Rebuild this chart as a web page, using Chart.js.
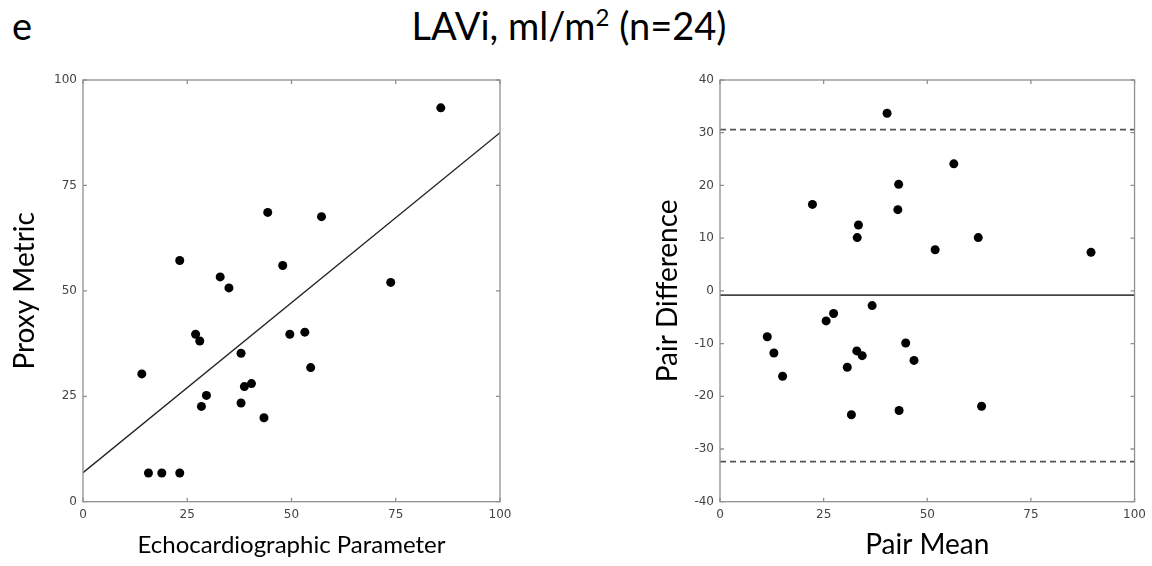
<!DOCTYPE html>
<html>
<head>
<meta charset="utf-8">
<script src="https://cdn.jsdelivr.net/npm/chart.js@4.4.1/dist/chart.umd.min.js"></script>
<style>
body { margin: 0; background: #fff; width: 1152px; height: 566px; overflow: hidden; position: relative; }
.head { position: absolute; top: 3px; font-family: Lato, sans-serif; font-size: 38px; color: #000; line-height: 44px; white-space: nowrap; }
.head sup { font-size: 24px; vertical-align: 14px; line-height: 0; }
#letter { left: 12px; }
#title { left: 0; width: 1138px; text-align: center; }
.box { position: absolute; top: 60px; width: 576px; height: 506px; }
</style>
</head>
<body>
<div class="head" id="letter">e</div>
<div class="head" id="title">LAVi, ml/m<sup>2</sup> (n=24)</div>
<div class="box" style="left:0"><canvas id="corrChart" width="576" height="506"></canvas></div>
<div class="box" style="left:576px"><canvas id="baChart" width="576" height="506"></canvas></div>
<script>
//Values.
//Left panel: echo parameter vs proxy metric, with the fitted line.
const echoParam   = [85.8, 44.3, 57.2, 23.2, 47.9, 32.9, 35.0, 73.8, 53.2, 49.6, 27.0, 28.0,
                     37.9, 54.6, 14.1, 40.4, 38.7, 29.6, 37.9, 28.4, 43.4, 15.7, 18.9, 23.2];
const proxyMetric = [93.4, 68.6, 67.6, 57.2, 56.0, 53.3, 50.7, 52.0, 40.2, 39.7, 39.7, 38.1,
                     35.2, 31.8, 30.3, 28.0, 27.3, 25.2, 23.4, 22.6, 19.9, 6.8, 6.8, 6.8];
const fitX = [0, 100];
const fitY = [6.9, 87.5];

//Right panel: Bland-Altman, pair mean vs pair difference.
const pairMean = [22.3, 33.4, 33.1, 40.3, 43.1, 42.9, 56.4, 51.9, 62.3, 89.5,
                  11.4, 13.0, 15.1, 25.6, 27.4, 36.7, 30.7, 33.0, 34.3, 31.7, 44.8, 46.8, 43.2, 63.1];
const pairDiff = [16.4, 12.5, 10.1, 33.7, 20.2, 15.4, 24.1, 7.8, 10.1, 7.3,
                  -8.7, -11.8, -16.2, -5.7, -4.3, -2.8, -14.5, -11.4, -12.3, -23.5, -9.9, -13.2, -22.7, -21.9];
const meanDiff = -0.8;
const upperLoA = 30.6;
const lowerLoA = -32.4;

//Tick labels.
const xTicks = [0, 25, 50, 75, 100];
const corrYTicks = [0, 25, 50, 75, 100];
const baYTicks = [-40, -30, -20, -10, 0, 10, 20, 30, 40];

const tickFont = { family: 'DejaVu Sans', size: 12 };
const titleFont = { family: 'Lato', size: 28 };

//MATLAB style frame: grey box round the plot area with short ticks pointing inwards.
const framePlugin = {
    id: 'frame',
    afterDraw(chart) {
        const { ctx, chartArea: a, scales } = chart;
        ctx.save();
        ctx.strokeStyle = '#909090';
        ctx.lineWidth = 1.3;
        ctx.strokeRect(a.left, a.top, a.right - a.left, a.bottom - a.top);
        ctx.beginPath();
        scales.x.ticks.forEach(t => {
            const px = scales.x.getPixelForValue(t.value);
            ctx.moveTo(px, a.bottom); ctx.lineTo(px, a.bottom - 4);
            ctx.moveTo(px, a.top); ctx.lineTo(px, a.top + 4);
        });
        scales.y.ticks.forEach(t => {
            const py = scales.y.getPixelForValue(t.value);
            ctx.moveTo(a.left, py); ctx.lineTo(a.left + 4, py);
            ctx.moveTo(a.right, py); ctx.lineTo(a.right - 4, py);
        });
        ctx.stroke();
        ctx.restore();
    }
};

//Builds the shared axis options, the tick list comes from the arrays above.
function axis(ticks, min, max, title, fit, titlePad, font) {
    return {
        type: 'linear', min: min, max: max,
        afterBuildTicks: s => { s.ticks = ticks.map(v => ({ value: v })); },
        afterFit: fit,
        grid: { display: false, drawTicks: false },
        border: { display: false },
        ticks: { font: tickFont, color: '#444', padding: 6, autoSkip: false, maxRotation: 0 },
        title: { display: true, text: title, font: font || titleFont, color: '#000', padding: titlePad }
    };
}

function line(xs, ys, color, width, dash) {
    return {
        type: 'line',
        data: xs.map((x, i) => ({ x: x, y: ys[i] })),
        borderColor: color, borderWidth: width, borderDash: dash || [],
        pointRadius: 0, showLine: true, fill: false
    };
}

function dots(xs, ys) {
    return {
        type: 'scatter',
        data: xs.map((x, i) => ({ x: x, y: ys[i] })),
        backgroundColor: '#000', borderWidth: 0, pointRadius: 4.5
    };
}

const common = {
    responsive: false, animation: false,
    plugins: { legend: { display: false }, tooltip: { enabled: false } }
};

new Chart(document.getElementById('corrChart'), {
    type: 'scatter',
    data: { datasets: [line(fitX, fitY, '#222', 1.4), dots(echoParam, proxyMetric)] },
    options: Object.assign({}, common, {
        layout: { padding: { left: 0, right: 76, top: 20, bottom: 0 } },
        scales: {
            //The reference sets this title tighter than the others, so a smaller size keeps its width.
            x: axis(xTicks, 0, 100, 'Echocardiographic Parameter', s => { s.height = 64.3; }, { top: 0, bottom: 6 }, { family: 'Lato', size: 24 }),
            y: axis(corrYTicks, 0, 100, 'Proxy Metric', s => { s.width = 83; }, { top: 8, bottom: 0 })
        }
    }),
    plugins: [framePlugin]
});

new Chart(document.getElementById('baChart'), {
    type: 'scatter',
    data: {
        datasets: [
            line([0, 100], [meanDiff, meanDiff], '#444', 1.8),
            line([0, 100], [upperLoA, upperLoA], '#555', 1.8, [6, 4]),
            line([0, 100], [lowerLoA, lowerLoA], '#555', 1.8, [6, 4]),
            dots(pairMean, pairDiff)
        ]
    },
    options: Object.assign({}, common, {
        layout: { padding: { left: 67, right: 15.5, top: 20, bottom: 0 } },
        scales: {
            x: axis(xTicks, 0, 100, 'Pair Mean', s => { s.height = 64.3; }, { top: 0, bottom: 4 }),
            y: axis(baYTicks, -40, 40, 'Pair Difference', s => { s.width = 77; }, { top: 8, bottom: 0 })
        }
    }),
    plugins: [framePlugin]
});
</script>
</body>
</html>
